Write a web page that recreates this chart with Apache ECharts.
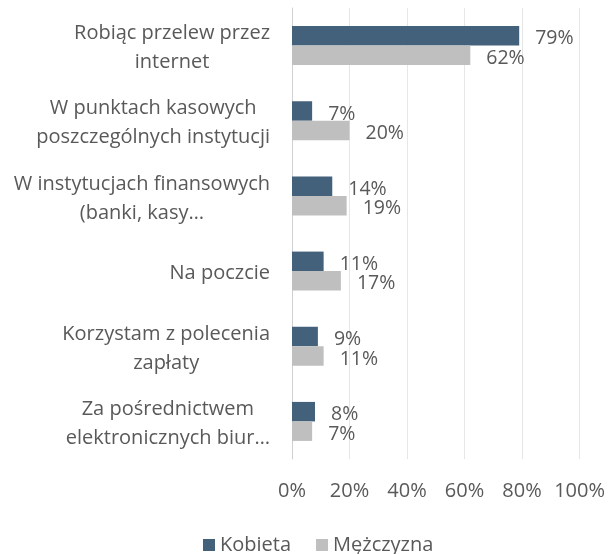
<!DOCTYPE html>
<html>
<head>
<meta charset="utf-8">
<script src="https://cdn.jsdelivr.net/npm/echarts@6/dist/echarts.min.js"></script>
<style>
  html, body { margin: 0; padding: 0; background: #fff; }
  #chart { width: 608px; height: 554px; }
</style>
</head>
<body>
<div id="chart"></div>
<script>
// categories top -> bottom
var categories = [
  'Robiąc przelew przez\ninternet',
  'W punktach kasowych\nposzczególnych instytucji',
  'W instytucjach finansowych\n(banki, kasy…',
  'Na poczcie',
  'Korzystam z polecenia\nzapłaty',
  'Za pośrednictwem\nelektronicznych biur…'
]
var kobieta = [79, 7, 14, 11, 9, 8]
var mezczyzna = [62, 20, 19, 17, 11, 7]

var textColor = '#595959'
var font = '"Open Sans", sans-serif'

var chart = echarts.init(document.getElementById('chart'))

var labelOpt = {
  show: true,
  position: 'right',
  distance: 16,
  offset: [0, 3],
  color: textColor,
  fontSize: 19.5,
  fontFamily: font,
  formatter: '{c}%'
}

chart.setOption({
  animation: false,
  textStyle: { fontFamily: font },
  grid: { left: 292, right: 28, top: 8, bottom: 95 },
  legend: {
    left: 198,
    top: 530,
    itemWidth: 12,
    itemHeight: 12,
    itemGap: 25,
    icon: 'rect',
    textStyle: { color: textColor, fontSize: 20, fontFamily: font },
    data: ['Kobieta', 'Mężczyzna']
  },
  xAxis: {
    type: 'value',
    min: 0,
    max: 100,
    interval: 20,
    axisLine: { show: false },
    axisTick: { show: false },
    splitLine: { lineStyle: { color: '#e6e6e6', width: 1 } },
    axisLabel: {
      color: textColor,
      fontSize: 20,
      fontFamily: font,
      margin: 22,
      formatter: '{value}%'
    }
  },
  yAxis: {
    type: 'category',
    inverse: true,
    data: categories,
    axisLine: { show: true, lineStyle: { color: '#d0d0d0' } },
    axisTick: { show: false },
    axisLabel: {
      color: textColor,
      fontSize: 20,
      fontFamily: font,
      margin: 22,
      lineHeight: 29,
      align: 'right',
      padding: [5, 0, 0, 0],
      formatter: function (v) {
        return v.split('\n').map(function (l) { return '{c|' + l + '}' }).join('\n')
      },
      rich: {
        c: { align: 'center', color: textColor, fontSize: 20, fontFamily: font, lineHeight: 29 }
      }
    }
  },
  series: [
    {
      name: 'Kobieta',
      type: 'bar',
      data: kobieta,
      barWidth: 19.5,
      barGap: '0%',
      itemStyle: { color: '#44617c' },
      label: labelOpt
    },
    {
      name: 'Mężczyzna',
      type: 'bar',
      data: mezczyzna,
      barWidth: 19.5,
      barGap: '0%',
      itemStyle: { color: '#bfbfbf' },
      label: labelOpt
    }
  ]
})
</script>
</body>
</html>
